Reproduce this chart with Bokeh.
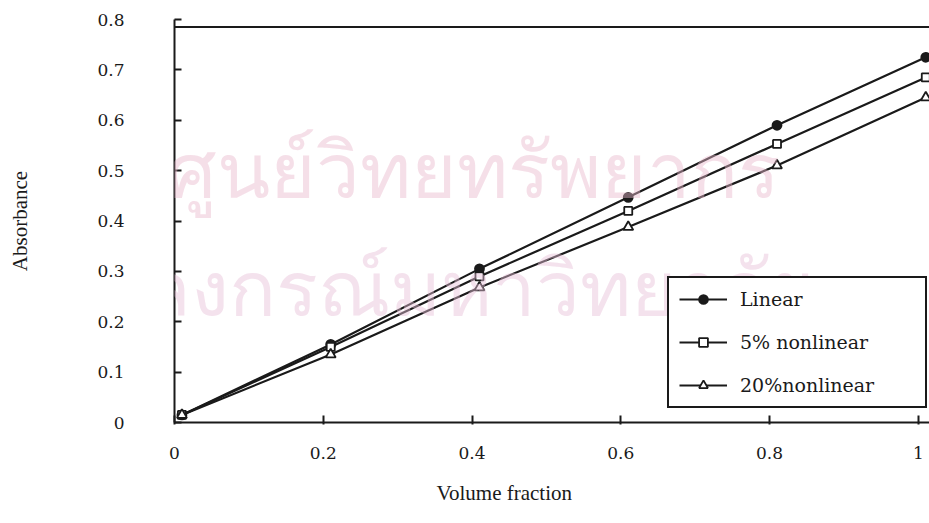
from bokeh.plotting import figure
from bokeh.models import FixedTicker, Span, Legend, LegendItem, Title, Range1d, Label
from bokeh.embed import file_html
from bokeh.resources import INLINE

# ---- data ----
volume_fraction = [0.01, 0.21, 0.41, 0.61, 0.81, 1.01]
abs_linear = [0.015, 0.155, 0.305, 0.447, 0.590, 0.725]
abs_5pct = [0.015, 0.150, 0.290, 0.420, 0.553, 0.685]
abs_20pct = [0.015, 0.135, 0.268, 0.388, 0.510, 0.645]
series_names = ["Linear", "5% nonlinear", "20%nonlinear"]

x_ticks = [0, 0.2, 0.4, 0.6, 0.8, 1]
x_tick_labels = ["0", "0.2", "0.4", "0.6", "0.8", "1"]
y_ticks = [0, 0.1, 0.2, 0.3, 0.4, 0.5, 0.6, 0.7, 0.8]
y_tick_labels = ["0", "0.1", "0.2", "0.3", "0.4", "0.5", "0.6", "0.7", "0.8"]
top_border_value = 0.785

watermark_lines = ["ศูนย์วิทยทรัพยากร", "จุฬาลงกรณ์มหาวิทยาลัย"]

INK = "#1a1a1a"
TICK_FONT = "DejaVu Serif"
TITLE_FONT = "Liberation Serif"

p = figure(width=929, height=523, output_backend="svg", toolbar_location=None,
           x_range=Range1d(0, 1.015), y_range=Range1d(0, 0.8),
           min_border_left=174, min_border_right=0, min_border_top=19,
           min_border_bottom=101)
p.background_fill_color = "white"
p.border_fill_color = "white"
p.outline_line_color = None
p.xgrid.visible = False
p.ygrid.visible = False

# watermark (faint)
wm1 = Label(x=-0.01, y=0.40, text=watermark_lines[0], text_font="Noto Sans",
            text_font_size="78px", text_color="#e9b9cc", text_alpha=0.45, level="annotation")
wm2 = Label(x=-0.235, y=0.165, text=watermark_lines[1], text_font="Noto Sans",
            text_font_size="78px", text_color="#e6bfd6", text_alpha=0.45, level="annotation")
p.add_layout(wm1)
p.add_layout(wm2)

# axes styling
for ax in (p.xaxis[0], p.yaxis[0]):
    ax.axis_line_color = INK
    ax.axis_line_width = 2
    ax.major_tick_line_color = INK
    ax.major_tick_line_width = 2
    ax.minor_tick_line_color = None
    ax.major_label_text_font = TICK_FONT
    ax.major_label_text_font_size = "17px"
    ax.major_label_text_color = INK

p.xaxis.ticker = FixedTicker(ticks=x_ticks)
p.xaxis.major_label_overrides = dict(zip(x_ticks, x_tick_labels))
p.xaxis.major_tick_in = 7
p.xaxis.major_tick_out = 2
p.xaxis.major_label_standoff = 22

p.yaxis.ticker = FixedTicker(ticks=y_ticks)
p.yaxis.major_label_overrides = dict(zip(y_ticks, y_tick_labels))
p.yaxis.major_tick_in = 7
p.yaxis.major_tick_out = 0
p.yaxis.major_label_standoff = 50
p.yaxis.axis_label = "Absorbance"
p.yaxis.axis_label_text_font = TITLE_FONT
p.yaxis.axis_label_text_font_size = "21px"
p.yaxis.axis_label_text_font_style = "normal"
p.yaxis.axis_label_text_color = INK
p.yaxis.axis_label_standoff = 62

# top border line
p.add_layout(Span(location=top_border_value, dimension="width",
                  line_color=INK, line_width=2))

# x axis title
p.add_layout(Title(text="Volume fraction", align="left", offset=262,
                   text_font=TITLE_FONT, text_font_size="21px",
                   text_font_style="normal", text_color=INK, standoff=34), "below")

# series
items = []
specs = [
    (abs_linear, "circle", 9, INK),
    (abs_5pct, "square", 8, "white"),
    (abs_20pct, "triangle", 10, "white"),
]
for name, (ys, marker, size, fill) in zip(series_names, specs):
    lr = p.line(volume_fraction, ys, line_color=INK, line_width=2.2)
    sr = p.scatter(volume_fraction, ys, marker=marker, size=size,
                   fill_color=fill, line_color=INK, line_width=1.8)
    items.append(LegendItem(label=name, renderers=[lr, sr]))

legend = Legend(items=items, location=(493, 14), margin=0, padding=10,
                spacing=21, label_height=22, glyph_height=22, glyph_width=48,
                label_standoff=13, label_width=175,
                label_text_font=TICK_FONT, label_text_font_size="19px",
                label_text_color=INK, border_line_color=INK, border_line_width=2,
                border_line_alpha=1.0,
                background_fill_color="white", background_fill_alpha=1)
p.add_layout(legend)

open("out.html", "w").write(file_html(p, INLINE))
